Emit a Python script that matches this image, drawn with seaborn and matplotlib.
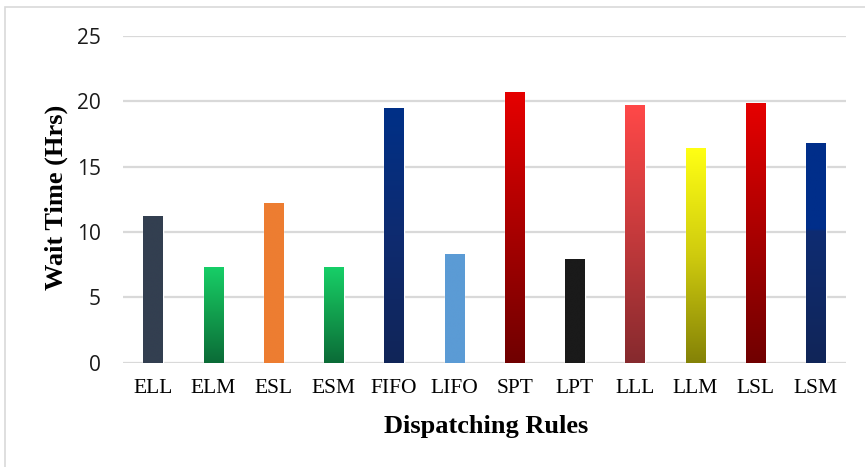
import numpy as np
import pandas as pd
import matplotlib
matplotlib.use("Agg")
import matplotlib.pyplot as plt
import seaborn as sns
from matplotlib.colors import LinearSegmentedColormap
from matplotlib.patches import Rectangle

rules = ["ELL", "ELM", "ESL", "ESM", "FIFO", "LIFO", "SPT", "LPT", "LLL", "LLM", "LSL", "LSM"]
wait_hrs = [11.2, 7.35, 12.2, 7.3, 19.5, 8.3, 20.75, 7.95, 19.7, 16.4, 19.9, 16.8]

# gradient stops per bar: (position from bottom 0..1, color)
bar_grads = [
    [(0, "#333F50"), (1, "#333F50")],
    [(0, "#0B6B37"), (0.6, "#13A852"), (1, "#17CF68")],
    [(0, "#ED7D31"), (1, "#ED7D31")],
    [(0, "#0B6B37"), (0.6, "#13A852"), (1, "#17CF68")],
    [(0, "#112558"), (0.5, "#0E2B70"), (1, "#003087")],
    [(0, "#5B9BD5"), (1, "#5B9BD5")],
    [(0, "#700000"), (0.5, "#AA0000"), (1, "#E60000")],
    [(0, "#1A1A1A"), (1, "#1A1A1A")],
    [(0, "#862A2E"), (0.5, "#C53A3C"), (1, "#FF4848")],
    [(0, "#848207"), (0.5, "#CFCB0E"), (1, "#FFFF14")],
    [(0, "#700000"), (0.5, "#AA0000"), (1, "#E60000")],
    [(0, "#112558"), (0.6, "#0E2C72"), (0.61, "#002E8A"), (1, "#002E8A")],
]

df = pd.DataFrame({"rule": rules, "wait": wait_hrs})

sns.set_theme(style="white")
plt.rcParams["font.family"] = ["DejaVu Sans"]

W, H = 865, 467
fig = plt.figure(figsize=(8.65, 4.67), dpi=100)
ax = fig.add_axes([123 / W, 1 - 362.7 / H, (846 - 123) / W, (362.7 - 36) / H])

sns.barplot(data=df, x="rule", y="wait", ax=ax, width=0.32,
            color="#333F50", saturation=1, zorder=3)

ax.set_yticks([0, 5, 10, 15, 20, 25])
ax.yaxis.grid(True, color="#D9D9D9", linewidth=1.6, zorder=0)
ax.set_axisbelow(True)
for s in ax.spines.values():
    s.set_visible(False)

for patch, stops in zip(ax.patches, bar_grads):
    x0 = patch.get_x()
    w = patch.get_width()
    h = patch.get_height()
    cmap = LinearSegmentedColormap.from_list("g", stops, N=256)
    grad = np.linspace(0, 1, 256).reshape(-1, 1)
    im = ax.imshow(grad, cmap=cmap, origin="lower", extent=[x0, x0 + w, 0, h],
                   aspect="auto", zorder=4, interpolation="bilinear")
    im.set_clip_path(patch)

ax.set_xlim(-0.5, len(rules) - 0.5)
ax.set_ylim(0, 25)

ax.tick_params(axis="y", length=0, pad=16, labelsize=15)
ax.tick_params(axis="x", length=0, pad=12)
for lab in ax.get_yticklabels():
    lab.set_fontfamily("Open Sans")
    lab.set_color("#1A1A1A")
ax.set_xticks(range(len(rules)))
ax.set_xticklabels(rules, fontfamily="Liberation Serif", fontsize=15.5, color="#000000")

ax.set_xlabel("")
ax.set_ylabel("")
fig.text(486 / W, 1 - 426 / H, "Dispatching Rules", fontfamily="Liberation Serif",
         fontweight="bold", fontsize=19, color="#000000", ha="center", va="center")
fig.text(56 / W, 1 - 197 / H, "Wait Time (Hrs)", fontfamily="Liberation Serif",
         fontweight="bold", fontsize=19, color="#000000", ha="center", va="center",
         rotation=90)

# chart frame: visible on left and top only (right/bottom run off the canvas)
fig.patches.append(Rectangle((5 / W, -0.05), 1.0, (1 - 7 / H) + 0.05,
                             transform=fig.transFigure, fill=False,
                             edgecolor="#D9D9D9", linewidth=1.2))

fig.savefig("out.png", dpi=100, facecolor="white")
